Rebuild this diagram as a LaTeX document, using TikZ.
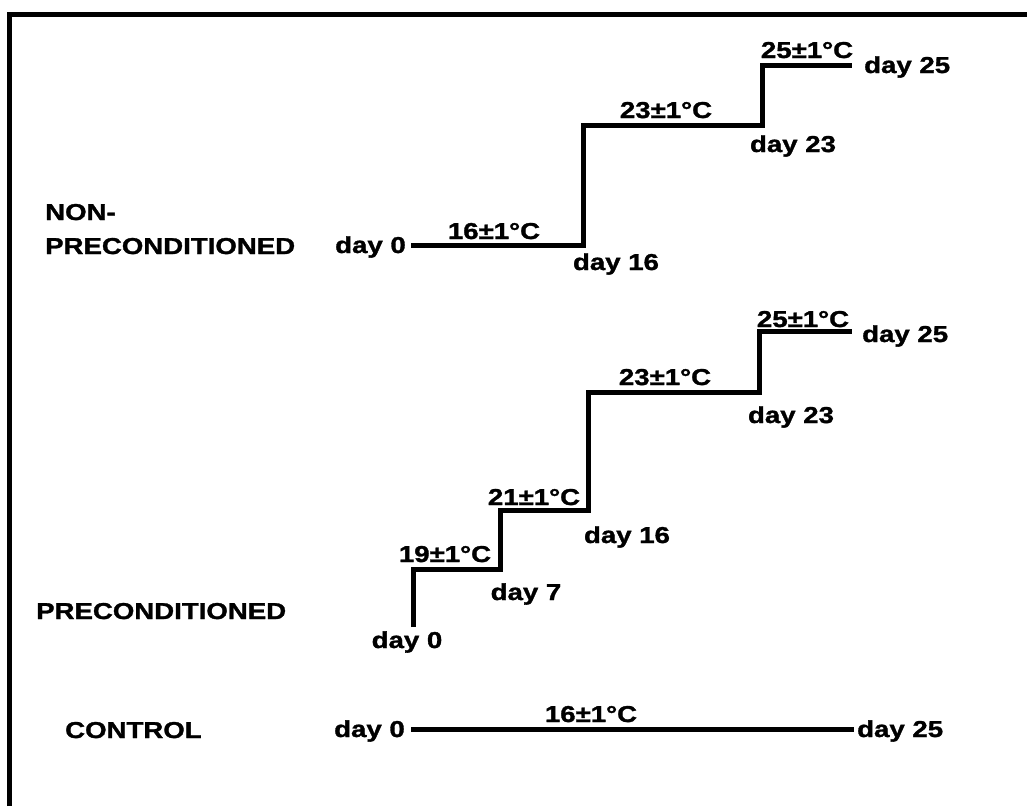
\documentclass[tikz,border=0pt]{standalone}
\usepackage{fontspec}
\setmainfont{Liberation Sans}[BoldFont={Liberation Sans Bold},BoldFeatures={FakeStretch=1.2,FakeBold=1.4}]
\begin{document}
\begin{tikzpicture}[x=1pt,y=-1pt,
  lbl/.style={inner sep=0pt,font=\fontsize{23}{27}\selectfont\bfseries},
  stair/.style={line width=5pt,line cap=butt,line join=miter},
  frame/.style={line width=5pt}]
\useasboundingbox (0,0) rectangle (1027,806);
% frame (top and left edges)
\coordinate (fa) at (9.5,806);
\coordinate (fb) at (9.5,14.5);
\coordinate (fc) at (1027,14.5);
\draw[frame] (fa) -- (fb) -- (fc);

% ---------- NON-PRECONDITIONED ----------
\coordinate (n0) at (411,245);
\coordinate (n1) at (583,245);
\coordinate (n2) at (583,125);
\coordinate (n3) at (762,125);
\coordinate (n4) at (762,65);
\coordinate (n5) at (852,65);
\draw[stair] (n0) -- (n1) -- (n2) -- (n3) -- (n4) -- (n5);
\node[lbl,anchor=base west] (nonA) at (45,220) {NON-};
\node[lbl,anchor=base west] (nonB) at (45,254) {PRECONDITIONED};
\node[lbl,anchor=base east] (nd0) at (406,253) {day 0};
\node[lbl,anchor=base] (nt16) at (494,239) {16±1°C};
\node[lbl,anchor=base] (nd16) at (616,270) {day 16};
\node[lbl,anchor=base] (nt23) at (666,118) {23±1°C};
\node[lbl,anchor=base] (nd23) at (793,152) {day 23};
\node[lbl,anchor=base] (nt25) at (807,58) {25±1°C};
\node[lbl,anchor=base west] (nd25) at (864,73) {day 25};

% ---------- PRECONDITIONED ----------
\coordinate (p0) at (413,627);
\coordinate (p1) at (413,569);
\coordinate (p2) at (500,569);
\coordinate (p3) at (500,510);
\coordinate (p4) at (588,510);
\coordinate (p5) at (588,392);
\coordinate (p6) at (759,392);
\coordinate (p7) at (759,331);
\coordinate (p8) at (852,331);
\draw[stair] (p0) -- (p1) -- (p2) -- (p3) -- (p4) -- (p5) -- (p6) -- (p7) -- (p8);
\node[lbl,anchor=base west] (pre) at (36,619) {PRECONDITIONED};
\node[lbl,anchor=base] (pd0) at (407,648) {day 0};
\node[lbl,anchor=base] (pt19) at (445,562) {19±1°C};
\node[lbl,anchor=base] (pd7) at (526,600) {day 7};
\node[lbl,anchor=base] (pt21) at (534,505) {21±1°C};
\node[lbl,anchor=base] (pd16) at (627,543) {day 16};
\node[lbl,anchor=base] (pt23) at (665,385) {23±1°C};
\node[lbl,anchor=base] (pd23) at (791,423) {day 23};
\node[lbl,anchor=base] (pt25) at (803,327) {25±1°C};
\node[lbl,anchor=base west] (pd25) at (862,342) {day 25};

% ---------- CONTROL ----------
\node[lbl,anchor=base west] (ctl) at (65,738) {CONTROL};
\node[lbl,anchor=base east] (cd0) at (405,737) {day 0};
\node[lbl,anchor=base west] (cd25) at (857,737) {day 25};
\node[lbl,anchor=base] (ct16) at (591,722) {16±1°C};
\coordinate (c0) at (411,729);
\coordinate (c1) at (854,729);
\draw[stair] (c0) -- (c1);
\end{tikzpicture}
\end{document}
